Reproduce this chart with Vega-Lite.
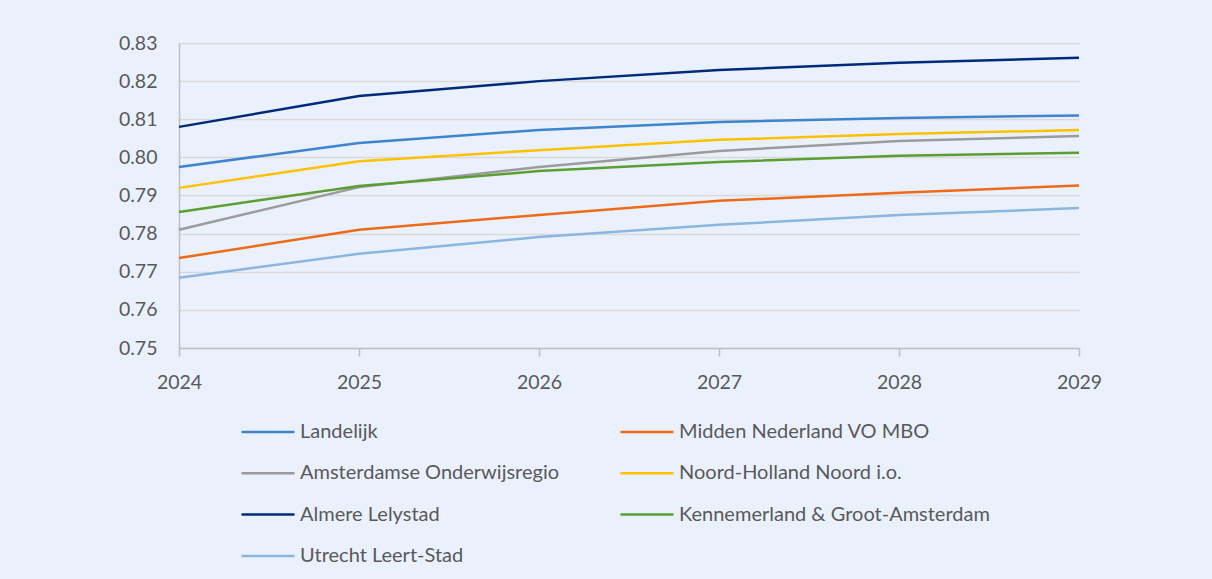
{
  "$schema": "https://vega.github.io/schema/vega-lite/v6.json",
  "autosize": "none",
  "width": 900,
  "height": 305,
  "padding": {"left": 179, "top": 43, "right": 133, "bottom": 231},
  "background": "#EAF1FD",
  "config": {
    "view": {"stroke": null},
    "font": "Lato",
    "axis": {"labelColor": "#595959", "labelFont": "Lato", "labelFontSize": 19.5, "titleColor": "#595959"},
    "legend": {"labelColor": "#595959", "labelFont": "Lato", "labelFontSize": 20, "labelLimit": 500}
  },
  "data": {
    "values": [
      {"year": 2024, "region": "Landelijk", "value": 0.7975},
      {"year": 2025, "region": "Landelijk", "value": 0.8038},
      {"year": 2026, "region": "Landelijk", "value": 0.8072},
      {"year": 2027, "region": "Landelijk", "value": 0.8093},
      {"year": 2028, "region": "Landelijk", "value": 0.8103},
      {"year": 2029, "region": "Landelijk", "value": 0.8110},
      {"year": 2024, "region": "Midden Nederland VO MBO", "value": 0.7736},
      {"year": 2025, "region": "Midden Nederland VO MBO", "value": 0.7810},
      {"year": 2026, "region": "Midden Nederland VO MBO", "value": 0.7849},
      {"year": 2027, "region": "Midden Nederland VO MBO", "value": 0.7886},
      {"year": 2028, "region": "Midden Nederland VO MBO", "value": 0.7907},
      {"year": 2029, "region": "Midden Nederland VO MBO", "value": 0.7926},
      {"year": 2024, "region": "Amsterdamse Onderwijsregio", "value": 0.7810},
      {"year": 2025, "region": "Amsterdamse Onderwijsregio", "value": 0.7922},
      {"year": 2026, "region": "Amsterdamse Onderwijsregio", "value": 0.7975},
      {"year": 2027, "region": "Amsterdamse Onderwijsregio", "value": 0.8017},
      {"year": 2028, "region": "Amsterdamse Onderwijsregio", "value": 0.8043},
      {"year": 2029, "region": "Amsterdamse Onderwijsregio", "value": 0.8056},
      {"year": 2024, "region": "Noord-Holland Noord i.o.", "value": 0.7920},
      {"year": 2025, "region": "Noord-Holland Noord i.o.", "value": 0.7990},
      {"year": 2026, "region": "Noord-Holland Noord i.o.", "value": 0.8019},
      {"year": 2027, "region": "Noord-Holland Noord i.o.", "value": 0.8046},
      {"year": 2028, "region": "Noord-Holland Noord i.o.", "value": 0.8061},
      {"year": 2029, "region": "Noord-Holland Noord i.o.", "value": 0.8072},
      {"year": 2024, "region": "Almere Lelystad", "value": 0.8080},
      {"year": 2025, "region": "Almere Lelystad", "value": 0.8161},
      {"year": 2026, "region": "Almere Lelystad", "value": 0.8200},
      {"year": 2027, "region": "Almere Lelystad", "value": 0.8229},
      {"year": 2028, "region": "Almere Lelystad", "value": 0.8248},
      {"year": 2029, "region": "Almere Lelystad", "value": 0.8261},
      {"year": 2024, "region": "Kennemerland & Groot-Amsterdam", "value": 0.7857},
      {"year": 2025, "region": "Kennemerland & Groot-Amsterdam", "value": 0.7925},
      {"year": 2026, "region": "Kennemerland & Groot-Amsterdam", "value": 0.7964},
      {"year": 2027, "region": "Kennemerland & Groot-Amsterdam", "value": 0.7988},
      {"year": 2028, "region": "Kennemerland & Groot-Amsterdam", "value": 0.8004},
      {"year": 2029, "region": "Kennemerland & Groot-Amsterdam", "value": 0.8012},
      {"year": 2024, "region": "Utrecht Leert-Stad", "value": 0.7684},
      {"year": 2025, "region": "Utrecht Leert-Stad", "value": 0.7747},
      {"year": 2026, "region": "Utrecht Leert-Stad", "value": 0.7791},
      {"year": 2027, "region": "Utrecht Leert-Stad", "value": 0.7823},
      {"year": 2028, "region": "Utrecht Leert-Stad", "value": 0.7849},
      {"year": 2029, "region": "Utrecht Leert-Stad", "value": 0.7867}
    ]
  },
  "mark": {"type": "line", "strokeWidth": 2.5},
  "encoding": {
    "x": {
      "field": "year",
      "type": "quantitative",
      "scale": {"domain": [2024, 2029], "nice": false, "zero": false},
      "axis": {
        "title": null,
        "values": [2024, 2025, 2026, 2027, 2028, 2029],
        "format": "d",
        "grid": false,
        "domainColor": "#BFBFBF",
        "domainWidth": 1.5,
        "tickColor": "#BFBFBF",
        "tickWidth": 1.5,
        "tickSize": 8,
        "labelPadding": 17,
        "labelFlush": false
      }
    },
    "y": {
      "field": "value",
      "type": "quantitative",
      "scale": {"domain": [0.75, 0.83], "nice": false, "zero": false},
      "axis": {
        "title": null,
        "values": [0.75, 0.76, 0.77, 0.78, 0.79, 0.80, 0.81, 0.82, 0.83],
        "format": ".2f",
        "grid": true,
        "gridColor": "#D9D9D9",
        "gridWidth": 1.5,
        "domainColor": "#BFBFBF",
        "domainWidth": 1.5,
        "ticks": false,
        "labelPadding": 22
      }
    },
    "color": {
      "field": "region",
      "type": "nominal",
      "scale": {
        "domain": ["Landelijk", "Amsterdamse Onderwijsregio", "Almere Lelystad", "Utrecht Leert-Stad", "Midden Nederland VO MBO", "Noord-Holland Noord i.o.", "Kennemerland & Groot-Amsterdam"],
        "range": ["#3F84CF", "#9B9B9B", "#002A7A", "#8AB6E0", "#ED6A17", "#FFC000", "#5B9F32"]
      },
      "legend": {
        "title": null,
        "orient": "none",
        "legendX": 61,
        "legendY": 361,
        "columns": 2,
        "columnPadding": 55,
        "rowPadding": 3.3,
        "symbolType": "stroke",
        "symbolSize": 2809,
        "symbolStrokeWidth": 2.5,
        "labelOffset": 4
      }
    }
  }
}
